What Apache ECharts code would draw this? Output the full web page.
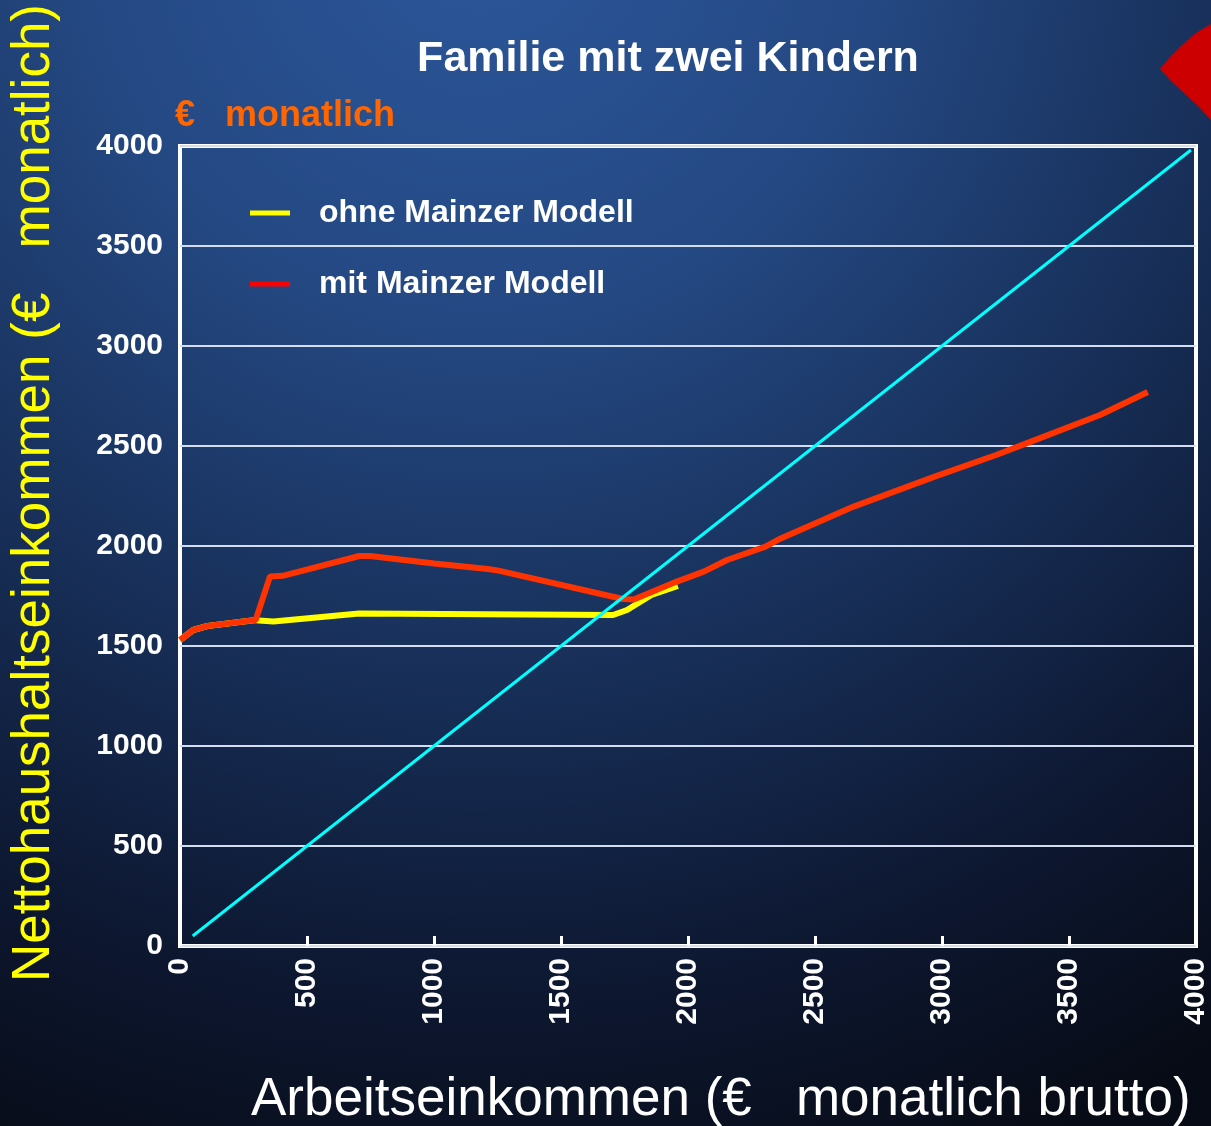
<!DOCTYPE html>
<html>
<head>
<meta charset="utf-8">
<script src="https://cdn.jsdelivr.net/npm/echarts@6/dist/echarts.min.js"></script>
<style>
html,body{margin:0;padding:0;background:#0a1020;}
#c{width:1211px;height:1126px;}
</style>
</head>
<body>
<div id="c"></div>
<script>
// ---- data ----
var xTicks = [0, 500, 1000, 1500, 2000, 2500, 3000, 3500, 4000];
var yTicks = [0, 500, 1000, 1500, 2000, 2500, 3000, 3500, 4000];

var ohneX = [0, 52, 108, 298, 311, 368, 705, 1705, 1760, 1856, 1960];
var ohneY = [1530, 1580, 1600, 1630, 1627, 1622, 1663, 1655, 1680, 1755, 1800];

var mitX = [0, 52, 108, 298, 354, 404, 706, 748, 1001, 1212, 1254, 1744, 1786, 1956, 2062, 2154, 2305, 2365, 2652, 2971, 3213, 3350, 3622, 3810];
var mitY = [1530, 1580, 1600, 1630, 1847, 1851, 1950, 1950, 1913, 1885, 1877, 1735, 1733, 1822, 1872, 1930, 1997, 2038, 2197, 2347, 2455, 2522, 2655, 2770];

var diagX = [50, 3980];
var diagY = [50, 3980];

var seriesNames = ['ohne Mainzer Modell', 'mit Mainzer Modell'];
var titleText = 'Familie mit zwei Kindern';
var unitText = '€   monatlich';
var xName = 'Arbeitseinkommen (€   monatlich brutto)';
var yName = 'Nettohaushaltseinkommen (€   monatlich)';

function pairs(xs, ys) { return xs.map(function (x, i) { return [x, ys[i]]; }); }

var chart = echarts.init(document.getElementById('c'));
var font = '"Liberation Sans", Arial, sans-serif';

chart.setOption({
  animation: false,
  backgroundColor: {
    type: 'radial', x: 480, y: -80, r: 1350, global: true,
    colorStops: [
      { offset: 0, color: '#2c579c' },
      { offset: 0.3, color: '#244882' },
      { offset: 0.55, color: '#18305a' },
      { offset: 0.8, color: '#0d1730' },
      { offset: 1, color: '#070b15' }
    ]
  },
  grid: {
    left: 180, right: 13, top: 146, bottom: 180,
    show: true, borderColor: '#ffffff', borderWidth: 4, backgroundColor: 'transparent'
  },
  legend: {
    orient: 'vertical', left: 245, top: 192,
    itemWidth: 40, itemHeight: 5, itemGap: 39,
    icon: 'rect',
    textStyle: { color: '#ffffff', fontSize: 32, fontWeight: 'bold', fontFamily: font, lineHeight: 32, padding: [0, 0, 0, 24] },
    data: [
      { name: seriesNames[0], itemStyle: { color: '#ffff00' } },
      { name: seriesNames[1], itemStyle: { color: '#ff0000' } }
    ]
  },
  xAxis: {
    type: 'value', min: 0, max: 4000, interval: 500,
    axisLine: { show: false },
    axisTick: { show: true, inside: true, length: 10, lineStyle: { color: '#ffffff', width: 3 } },
    splitLine: { show: false },
    axisLabel: {
      rotate: 90, margin: 12, color: '#ffffff', fontSize: 30, fontWeight: 'bold', fontFamily: font,
      formatter: function (v) { return xTicks.indexOf(v) >= 0 ? String(v) : ''; }
    }
  },
  yAxis: {
    type: 'value', min: 0, max: 4000, interval: 500,
    axisLine: { show: false },
    axisTick: { show: false },
    splitLine: { show: true, lineStyle: { color: '#d4ddf0', width: 2 } },
    axisLabel: {
      margin: 17, color: '#ffffff', fontSize: 30, fontWeight: 'bold', fontFamily: font,
      padding: [5, 0, 0, 0],
      formatter: function (v) { return yTicks.indexOf(v) >= 0 ? String(v) : ''; }
    }
  },
  series: [
    {
      name: seriesNames[0], type: 'line', data: pairs(ohneX, ohneY), symbol: 'none',
      lineStyle: { color: '#ffff00', width: 6 }, itemStyle: { color: '#ffff00' }, z: 2
    },
    {
      name: seriesNames[1], type: 'line', data: pairs(mitX, mitY), symbol: 'none',
      lineStyle: { color: '#ff3300', width: 6 }, itemStyle: { color: '#ff0000' }, z: 3
    },
    {
      name: 'diag', type: 'line', data: pairs(diagX, diagY), symbol: 'none',
      lineStyle: { color: '#00ffff', width: 3 }, z: 4
    }
  ],
  graphic: [
    {
      type: 'text',
      style: { text: titleText, x: 668, y: 59, align: 'center', verticalAlign: 'middle',
        fill: '#ffffff', font: 'bold 43px ' + font }
    },
    {
      type: 'text',
      style: { text: unitText, x: 175, y: 116, align: 'left', verticalAlign: 'middle',
        fill: '#ff6600', font: 'bold 36px ' + font }
    },
    {
      type: 'text',
      style: { text: xName, x: 251, y: 1100, align: 'left', verticalAlign: 'middle',
        fill: '#ffffff', font: '53px ' + font }
    },
    {
      type: 'text', x: 34, y: 982, rotation: Math.PI / 2,
      style: { text: yName, x: 0, y: 0, align: 'left', verticalAlign: 'middle',
        fill: '#ffff00', font: '53px ' + font }
    },
    {
      type: 'polygon',
      shape: { points: [[1160, 69], [1170, 57], [1182, 45], [1196, 33], [1211, 24], [1211, 120], [1198, 106], [1184, 93], [1171, 81]] },
      style: { fill: '#cc0000' }
    }
  ]
});
</script>
</body>
</html>
